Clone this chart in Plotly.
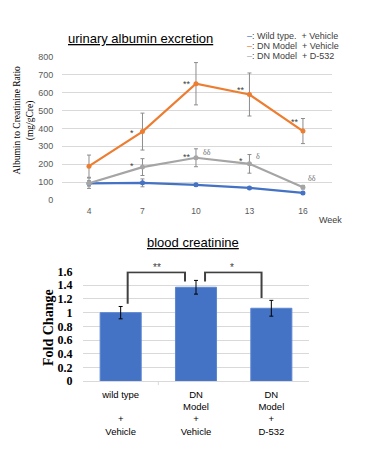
import plotly.graph_objects as go

# ---------------- data ----------------
weeks = [4, 7, 10, 13, 16]
wt_vehicle = [93, 96, 85, 68, 40]
wt_vehicle_err = [15, 22, 8, 6, 8]
dn_vehicle = [189, 382, 649, 589, 385]
dn_vehicle_err = [62, 103, 118, 120, 70]
dn_d532 = [94, 184, 236, 202, 72]
dn_d532_err = [29, 47, 50, 52, 10]

sig_dn_vehicle = ["", "*", "**", "**", "**"]
sig_dn_d532 = ["", "*", "**", "*", ""]
delta_dn_d532 = ["", "", "δδ", "δ", "δδ"]

legend_labels = [": Wild type.&nbsp; + Vehicle", ": DN Model&nbsp; + Vehicle", ": DN Model&nbsp; + D-532"]

bar_groups = ["wild type<br> <br>+<br>Vehicle", "DN<br>Model<br>+<br>Vehicle", "DN<br>Model<br>+<br>D-532"]
fold_change = [1.0, 1.37, 1.064]
fold_change_err = [0.09, 0.10, 0.115]

BLUE = "#4472C4"
ORANGE = "#ED7D31"
GREY = "#A5A5A5"
TXT = "#404040"

# page body has an 8px margin: build the figure in reference pixel coords shifted by it
OX, OY = 8, 8
W, H = 362, 451

def px(x):
    return (x - OX) / W

def py(y):
    return 1 - (y - OY) / H

fig = go.Figure()

for vals, errs, col in [(wt_vehicle, wt_vehicle_err, BLUE),
                        (dn_vehicle, dn_vehicle_err, ORANGE),
                        (dn_d532, dn_d532_err, GREY)]:
    fig.add_trace(go.Scatter(
        x=weeks, y=vals, mode="lines+markers",
        line=dict(color=col, width=2.2),
        marker=dict(color=col, size=5),
        error_y=dict(type="data", array=errs, color="#8C8C8C", thickness=1, width=2),
        xaxis="x", yaxis="y", showlegend=False))

fig.add_trace(go.Bar(
    x=[0, 1, 2], y=fold_change,
    marker=dict(color=BLUE, line=dict(color="#5B86D0", width=1)),
    width=0.545,
    error_y=dict(type="data", array=fold_change_err, color="#000000", thickness=1, width=2),
    xaxis="x2", yaxis="y2", showlegend=False))

annotations = []
# significance marks on the line chart
star_off = [(0, 0), (-10, -1), (-9, 0), (-8, 4), (-8, 9)]
for i, w in enumerate(weeks):
    if sig_dn_vehicle[i]:
        annotations.append(dict(x=w, y=dn_vehicle[i], xref="x", yref="y", text=sig_dn_vehicle[i],
                                showarrow=False, xshift=star_off[i][0], yshift=star_off[i][1],
                                font=dict(size=9, color=TXT, family="Liberation Sans")))
gstar_off = [(0, 0), (-10, 1), (-9, 1), (-8, 3), (0, 0)]
for i, w in enumerate(weeks):
    if sig_dn_d532[i]:
        annotations.append(dict(x=w, y=dn_d532[i], xref="x", yref="y", text=sig_dn_d532[i],
                                showarrow=False, xshift=gstar_off[i][0], yshift=gstar_off[i][1],
                                font=dict(size=9, color=TXT, family="Liberation Sans")))
delta_off = [(0, 0), (0, 0), (11, 5), (9, 7), (9, 9)]
for i, w in enumerate(weeks):
    if delta_dn_d532[i]:
        annotations.append(dict(x=w, y=dn_d532[i], xref="x", yref="y", text=delta_dn_d532[i],
                                showarrow=False, xshift=delta_off[i][0], yshift=delta_off[i][1],
                                font=dict(size=8, color="#707070", family="Liberation Serif")))

def paper_ann(x, y, text, size, color="#000000", family="Liberation Sans", **kw):
    d = dict(x=px(x), y=py(y), xref="paper", yref="paper", showarrow=False, text=text,
             xanchor="center", yanchor="middle", font=dict(size=size, color=color, family=family))
    d.update(kw)
    return d

annotations.append(paper_ann(140, 32, "<u>urinary albumin excretion</u>", 13))
annotations.append(paper_ann(193, 243, "<u>blood creatinine</u>", 13))
annotations.append(paper_ann(24, 117, "Albumin to Creatinine Ratio<br>(mg/gCre)", 9.5,
                             family="Liberation Serif", textangle=-90))
annotations.append(paper_ann(49, 331, "<b>Fold Change</b>", 14, family="Liberation Serif", textangle=-90))
annotations.append(paper_ann(330, 220, "Week", 9, color=TXT))
# legend
for i, (lab, col) in enumerate(zip(legend_labels, [BLUE, ORANGE, GREY])):
    annotations.append(paper_ann(245, 29.5 + 10.3 * i, f"<span style='color:{col}'>–</span>{lab}", 9,
                                 color=TXT, xanchor="left"))
# bracket significance
annotations.append(dict(x=0.48, y=1.59, xref="x2", yref="y2", showarrow=False, text="**", yshift=5,
                        font=dict(size=10, color=TXT, family="Liberation Sans")))
annotations.append(dict(x=1.48, y=1.59, xref="x2", yref="y2", showarrow=False, text="*", yshift=5,
                        font=dict(size=10, color=TXT, family="Liberation Sans")))

shapes = [
    # white legend backdrop covering the top gridline
    dict(type="rect", xref="paper", yref="paper", x0=px(236), x1=px(345), y0=py(55), y1=py(22),
         fillcolor="white", line=dict(width=0), layer="above"),
    dict(type="path", xref="x2", yref="y2", path="M 0.093 1.13 L 0.093 1.59 L 0.854 1.59 L 0.854 1.455",
         line=dict(color=TXT, width=2)),
    dict(type="path", xref="x2", yref="y2", path="M 1.12 1.455 L 1.12 1.59 L 1.87 1.59 L 1.87 1.215",
         line=dict(color=TXT, width=2)),
    # category separator tick below the bar chart axis
    dict(type="line", xref="x2", yref="paper", x0=0.5, x1=0.5, y0=py(386), y1=py(390),
         line=dict(color="#D9D9D9", width=1)),
]

fig.update_layout(
    width=W, height=H,
    margin=dict(l=0, r=0, t=0, b=0),
    paper_bgcolor="white", plot_bgcolor="white",
    annotations=annotations, shapes=shapes,
    xaxis=dict(domain=[px(62), px(332)], range=[2.486, 17.63], tickvals=weeks,
               showgrid=False, zeroline=False, showline=False,
               ticks="outside", ticklen=3, tickcolor="rgba(0,0,0,0)",
               tickfont=dict(size=8.5, color="#595959", family="Liberation Sans"),
               anchor="y"),
    yaxis=dict(domain=[py(199), py(51)], range=[0, 800], dtick=100,
               gridcolor="#D9D9D9", gridwidth=1, zeroline=False, showline=False,
               ticks="outside", ticklen=6, tickcolor="rgba(0,0,0,0)",
               tickfont=dict(size=9, color="#595959", family="Liberation Sans"),
               anchor="x"),
    xaxis2=dict(domain=[px(83), px(309)], range=[-0.5, 2.5], tickvals=[0, 1, 2], ticktext=bar_groups,
                showgrid=False, zeroline=False, showline=True, linecolor="#D9D9D9", linewidth=1,
                ticks="outside", ticklen=4, tickcolor="rgba(0,0,0,0)",
                tickfont=dict(size=9.5, color="#000000", family="Liberation Sans"),
                anchor="y2"),
    yaxis2=dict(domain=[py(386), py(272.7)], range=[0, 1.6], dtick=0.2,
                gridcolor="#D9D9D9", gridwidth=1, zeroline=False, showline=False,
                ticks="outside", ticklen=7, tickcolor="rgba(0,0,0,0)",
                tickfont=dict(size=12, color="#000000", family="Liberation Serif"),
                tickprefix="<b>", ticksuffix="</b>",
                anchor="x2"),
)

fig.write_html("out.html")
